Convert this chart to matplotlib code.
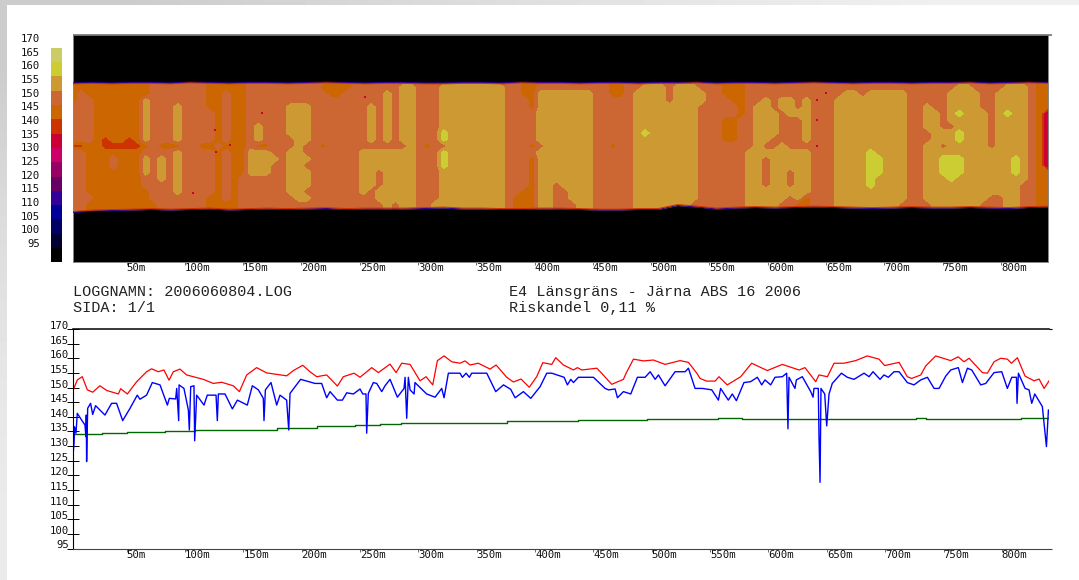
import numpy as np
import matplotlib
matplotlib.use('Agg')
import matplotlib.pyplot as plt
from matplotlib.colors import BoundaryNorm, ListedColormap
from matplotlib.lines import Line2D

W, H = 1079, 580
MONO = 'Liberation Mono'
TICK = 'DejaVu Sans Mono'

# colour scale, black = below 95
scale_colors = ['#000000', '#000033', '#000066', '#000099', '#330099', '#660066', '#990066', '#CC0066',
                '#CC0033', '#CC3300', '#CC6600', '#CC6633', '#CC9933', '#CCCC33', '#CCCC66']
scale_levels = [90, 95, 100, 105, 110, 115, 120, 125, 130, 135, 140, 145, 150, 155, 160, 165]
scale_labels = [95, 100, 105, 110, 115, 120, 125, 130, 135, 140, 145, 150, 155, 160, 165, 170]
bar_edges = [88.0, 93.2, 98.4, 103.7, 108.9, 114.1, 119.3, 124.5, 129.8, 135.0, 140.2, 145.4, 150.6, 155.9, 161.1, 166.3]

x_ticks = [50, 100, 150, 200, 250, 300, 350, 400, 450, 500, 550, 600, 650, 700, 750, 800]
x_labels = ['50m', '100m', '150m', '200m', '250m', '300m', '350m', '400m',
            '450m', '500m', '550m', '600m', '650m', '700m', '750m', '800m']

# road surface classes, one row per lateral position
class_db = {'M': 127.5, 'R': 137.5, 'A': 142.5, 'B': 147.5, 'C': 152.5, 'D': 157.5}
surface_rows = [
    "AAAAAAAAAA BBBBBBBAAA AABBBBBBBB BBAAAABBBB BBBBBBBBBB BBBBBBAAAB BBBBBBBAAB BBBBBBBBBB BAAABBBBBB BBBBBBBBBB BBBBBBBBBB BBBBBBBBBB AA",
    "AAAAAAAAAA BBBBBBBAAA AABBBBBBBB BAAAABBBBB BCCBBBCCCC CCCCBBAABB BBBBBBBAAB BCCCBCCCBB BAAABBBBBB BBBBBBBBBB BBBBBBBBBB CCBBBBCCCB AA",
    "ABAAAAAAAA BBBBBBBAAB AABBBBBBBB BBAABBBBBC BCCBBBCCCC CCCCBBAACC CCCCCBBAAB CCCCBCCCCB BAAABBBBBB BBBBBBCCBC CCCCBBBBBC CCCBBCCCCB AA",
    "ABBAAAAAAC BBBBBBBAAB AABBBBBBBB BBBBBBBBBC BCCBBBCCCC CCCCBBBACC CCCCCBBBBB CCCCBCCCCB BBAABBCBCC BCBBBCCCCC CCCCBBBBBC CCCBBCCCCB AA",
    "BBBAAAAAAC BBBCBBBAAB AABBBBBCCC BBBBBBBCBC BCCBBBCCCC CCCCBBBACC CCCCCBBBBB CCCCCCCCBB BBBABCCBCC BCBBBCCCCC CCCCBBCBBC CCCBBCCCCB AA",
    "BBBAAAAAAC BBBCBBBBAB AABBBBBCCC BBBBBBBCBC BCCBBBCCCC CCCCBBBBCC CCCCCBBBBB CCCCCCCCBB BBBABCCCBC CCBBBCCCCC CCCCBBCCBC DCCCBCDCCB AM",
    "BBBAAAAAAC BBBCBBBBAB AABBBBBCCC BBBBBBBCBC BCCBBBCCCC CCCCBBBBCC CCCCCBBBBB CCCCCCCCBB BAABBCCCBB BCBBBCCCCC CCCCBBCCBC CCCCBCCCCB AM",
    "BBBAAAAAAC BBBCBBBBAB AABCBBBCCC BBBBBBBCBC BCCBBBCCCC CCCCBBBBCC CCCCCBBBBB CCCCCCCCBB BAABBCCCBB BCBBBCCCCC CCCCBBCCBB CCCCBCCCCB AM",
    "BBBAAAAAAC BBBCBBBBAB AABCBBBCCC BBBBBBBCBC BCCBBBDCCC CCCCBBBBCC CCCCCBBBBB CDCCCCCCBB BAABBCCCBB BCBBBCCCCC CCCCBBBCCC DCCCBCCCCB AM",
    "BBBARAARAC BBBCBBBBAB AABCBBBBCC BBBBBBBCBC BCCBBBDCCC CCCCBBBBCC CCCCCBBBBB CCCCCCCCBB BAABBCCBBB BCBBBCCCCC CCCCBBBCCC DCCCBCCCCB AM",
    "RRAARRRRRA BAAABBAABA AABAABBBCB BABBBBBBBB BBCBABBCCC CCCCBBBABC CCCCCBBABB CCCCCCCCBB BBBBBCBBCB BBBBBCCCCC CCCCBBCCBC CCCCBCCCCB AM",
    "BBAAAAAAAB BBBCBBBBAB AACCCBBCCB BBBBBBCCCC CCCBBBDCCC CCCCBBBBCC CCCCCBBBBB CCCCCCCCBB BBBBCCCCCC CCBBBCCCCD CCCCBBCCCC CCCCCCCCCB AM",
    "BBAAABAAAC BCBCBBBBAB AACCCCBCCC BBBBBBCCCC CCCBBBDCCC CCCCBBBACC CCCCCBBBBB CCCCCCCCBB BBBBCCBCCC CCBBBCCCCD DCCCBBCCDD DCCCCCCDCB AM",
    "BBAAABAAAC BCBCBBBBAB AACCCBBCCB BBBBBBCCCC CCCBBBDCCC CCCCBBBACC CCCCCBBBBB CCCCCCCCBB BBBBCCBCCC CCBBBCCCCD DCCCBBCCDD DCCCCCCDCB AM",
    "BBAAAAAAAC BCBCBBBBAB AACCCBBCCC BBBBBBCCBC CCCBBBCCCC CCCCBBBACC CCCCCBBBBB CCCCCCCCBB BBBBCCBCCB CCBBBCCCCD DCCCBBCCDD DCCCCCCDCB AA",
    "BBAAAAAAAB BCBCBBBBAB ABBBBBBCCC BBBBBBCCBC CCCBBBCCCC CCCCBBBACC CCCCCBBBBB CCCCCCCCBB BBBBCCBCCB CCBBBCCCCD CCCCBBCCCD CCCCCCCCCB AA",
    "BBAAAAAAAB BBBCBBBBAB ABBBBBBCCC BBBBBBCCBC CCCBBBCCCC CCCCBBBACC BCCCCBBBBB CCCCCCCCBB BBBBCCBCCB CCBBBCCCCD CCCCBBCCCC CCCCCCCCBB AA",
    "BBAAAAAAAA BBBCBBBBAB ABBBBBBCCB BBBBBBCBCC CCCBBBCCCC CCCCBBAACC BBCCCBBBBB CCCCCCCCBB BBBBCCCCCC CCBBBCCCCC CCCCBBCCCC CCCCCCCCBB AA",
    "BBBAAAAAAA BBBBBBBAAB ABBBBBBBCC BBBBBBBBCC CCCBBBCCCC CCCCBAAACC BBCCCBBBBB CCCCCCCCBB BBBBCCCCCB CABBBCCCCC CCCCBBCCCC CCCCBBCCBB AA",
    "BBAAAAAAAA ABBBBBBAAA ABBBBBBBBB BBBBBBBBBC BCCBBCCCCC CCCCBAAACC BBBCCBBBBB CCCCCCCBBB BBBBCCCCBB AABBBCCCCC CCCBBBBCCC CCCBBBCCBB AA",
    "BBAAAAAAAA ABBBBBBAAA ABBBBBBBBB BBBBBBBBBC BCCBBCCCCC CCCCBAAACC BBBCCBBBBB CCCCCCCBBB BBBBCCCCBB AABBBCCCCC CCCBBBBCCC CCCBBBCCBB AA",
]
top_edge = [48, 47.5, 48, 47.5, 47.5, 48, 47, 47.5, 48, 47.5,
            47.5, 48, 47.5, 47, 47.5, 48, 47.5, 47.5, 48, 48,
            47.5, 47.5, 48, 47, 47.5, 47.5, 48, 47.5, 47.5, 48,
            47.5, 47.5, 47, 48, 47.5, 47.5, 48, 47.5, 47, 47.5,
            48, 47.5, 47.5, 48, 47.5, 47.5, 47, 48, 47.5, 47, 47.5]
bottom_edge = [177.5, 176, 175.5, 175, 174.5, 175, 174.5, 174, 175, 174.5,
               174, 174.5, 174, 173.5, 174.5, 174, 174, 174, 173.5, 173,
               174, 174, 174.5, 174.5, 174, 174, 174.5, 175, 175, 174.5,
               174.5, 170.5, 172, 174, 173, 172.5, 173, 172.5, 172, 172.5,
               173, 173.5, 173, 172.5, 173, 173, 172.5, 173, 173.5, 172.5, 172]
speck_m = [166, 125.7, 106.9, 138.6, 126.6, 254.2, 642.4, 642.4, 642.4, 650]
speck_lat = [78, 95, 158, 110, 117, 62, 65, 85, 111, 58]

red_m = [3.7, 7.7, 12, 16.3, 20.9, 27.1, 32.9, 42.9, 44.9, 50.6, 58.6, 67.1, 71.4, 77.1, 82, 86.3, 90, 95.7,
         101.4, 115.7, 124.3, 131.4, 141.4, 146.6, 152.9, 161.4, 170, 187.1, 192.9, 200.9, 207.1, 212.9,
         221.4, 230.6, 235.7, 244.9, 250, 260, 265.7, 275.7, 280.9, 285.7, 292.9, 301.4, 306.6, 312.3,
         316.3, 322, 328.6, 335.7, 340, 344.3, 351.4, 361.4, 366.6, 375.7, 381.4, 388, 395, 401.4, 406.6,
         414.3, 417.7, 424.3, 432.9, 436.3, 440, 452.9, 457, 465.7, 475.7, 478, 484.3, 492.9, 501.4, 511.4,
         524.3, 531.4, 538.6, 541.4, 547, 554.3, 557.6, 564.7, 576.2, 585.6, 599, 611.9, 626.2, 631.3,
         640.5, 643.3, 650.5, 656.2, 664.7, 674.7, 684.7, 694.7, 699.6, 711.9, 719, 722.7, 730.5, 734.8,
         743.3, 756.2, 762.5, 767.6, 771.9, 783.3, 787.6, 793.3, 799, 804.7, 808.2, 813.3, 819.9, 827.6,
         831.9, 836.2, 840.5]
red_db = [148.6, 152.6, 153.7, 149.2, 148.4, 150.6, 149, 147.8, 149.6, 147.8, 152, 155.4, 156.4, 155.4, 156,
          152.5, 155.4, 156.3, 154.3, 152.8, 151.4, 151.8, 150.6, 148.6, 154.3, 156.8, 155, 154, 155.8, 157.6,
          155.4, 153.7, 154.3, 150.5, 153.7, 154.9, 153.5, 156.8, 155.1, 158, 155.1, 158.3, 157.9, 152.3,
          153.7, 150.9, 159.2, 160.8, 158.8, 158.3, 159.1, 157.7, 158.3, 156.3, 157.7, 153.5, 151.9, 152.9,
          150.1, 153.7, 158.5, 157.9, 160.2, 157.7, 156, 156.8, 156, 156.6, 154.9, 151.1, 152.8, 154.9, 159.7,
          159.1, 159.4, 157.9, 159.2, 158.6, 154.9, 153.1, 152.2, 152.2, 153.7, 150.9, 153.7, 158.3, 155.8,
          157.9, 156, 156.8, 152, 154.3, 153.7, 158.3, 158.3, 159.2, 160.8, 159.7, 157.5, 158.6, 153.7, 153.1,
          154.3, 157.4, 160.8, 159.2, 160.5, 158.8, 160, 155.1, 154.9, 158.8, 160, 159.7, 158.3, 160.2, 153.9,
          152.3, 152.9, 149.7, 152.3]

blue_m = [3.7, 4.9, 5.4, 6.6, 7.7, 11.4, 14.3, 15.1, 15.4, 15.7, 16.6, 19.1, 20.9, 23.4, 31.4, 37.1, 41.4, 46.6,
          52.9, 59.1, 61.4, 67.1, 72, 78.6, 84.9, 86.6, 92, 92.9, 94.6, 94.9, 99.1, 102.9, 103.7, 104.9, 107.7,
          108.3, 110, 116.3, 119.1, 126.6, 127.7, 128.6, 134.3, 140.6, 144.9, 153.4, 157.7, 162.9, 167.1, 167.7,
          168.9, 173.7, 178.6, 181.4, 187.1, 188.9, 190, 199.1, 211.4, 217.1, 221.4, 224.3, 230.6, 234.9, 238.6,
          244.3, 250, 252.3, 255.1, 255.7, 257.1, 261.4, 264.3, 268.6, 271.4, 275.7, 282, 287.7, 288.6, 290,
          291.4, 292.9, 296.3, 297.1, 307.1, 314.3, 320, 322, 325.7, 335.7, 337.7, 340.9, 343.7, 345.7, 358.6,
          366.3, 372.9, 379.1, 382.9, 390, 396.3, 404.3, 410, 414.3, 424.9, 427.7, 430.6, 432.9, 437.1, 450, 460,
          462.9, 468.6, 470.6, 475.7, 482, 487.7, 494.3, 498.6, 502.9, 505.7, 511.4, 520, 528.6, 531.4, 537.1,
          543.4, 551.4, 557.1, 559, 565.6, 569, 572.5, 579, 584.7, 590.5, 594.2, 597, 601.9, 605.6, 611.9, 615.6,
          616.2, 616.7, 617.6, 622.7, 623.9, 629, 636.2, 638.2, 639, 642.7, 643.3, 644.2, 645, 648.2, 649.9,
          651.9, 654.7, 662.5, 667.6, 673.3, 681.9, 686.2, 689.6, 695.6, 699, 702.7, 707.6, 711.9, 719, 724.7,
          730.5, 736.2, 741.9, 746.2, 751.9, 756.2, 762.7, 766.2, 770.5, 774.2, 781.9, 786.2, 793.3, 799.9,
          804.7, 808.5, 812.5, 813, 814.2, 819.9, 823.3, 825.6, 828.2, 834.7, 837, 838.2, 839.9]
blue_db = [125.2, 130.9, 136.6, 134.4, 141.2, 138.9, 137.2, 133.2, 140.6, 124.7, 142.9, 144.6, 140.8, 143.8, 140.6,
           144.6, 144.6, 138.7, 142.9, 147.4, 146, 147.4, 151.7, 150.9, 144, 146.3, 146.1, 149.7, 138.7, 150.9,
           149.7, 142.3, 135.5, 150.3, 150.6, 131.8, 147.4, 144, 147.4, 147.4, 138.7, 147.8, 147.8, 142.7, 145.7,
           144, 150.6, 149.2, 146.3, 138.7, 149.2, 151.7, 144, 147.4, 145.7, 135.5, 148, 152.8, 151.4, 151.4,
           146.5, 148.6, 145.7, 145.7, 148.2, 147.8, 149.5, 147.8, 147.8, 134.4, 148, 151.7, 151.4, 148.6, 150.6,
           152.8, 146.7, 149.7, 153.5, 139.5, 153.5, 149.2, 147.8, 151.7, 147.8, 146.7, 149.7, 146.5, 154.9, 154.9,
           153.5, 154.9, 153.5, 154.9, 154.9, 148.6, 150.9, 149.4, 146.5, 148.6, 146.3, 150.3, 154.9, 154.9, 153.5,
           150.9, 152.8, 151.7, 153.5, 153.5, 149.7, 149.2, 149.5, 146.5, 148.6, 147.8, 153.5, 153.5, 155.4, 152.8,
           154.3, 150.6, 155.4, 155.4, 156.6, 149.7, 149.7, 149.2, 145.7, 149.7, 145.7, 147.8, 145.5, 151.7, 152,
           153.5, 150.9, 152.6, 150.9, 153.5, 153.7, 154.9, 145.2, 135.9, 153.5, 149.7, 152.6, 153.7, 148.6, 146.7,
           149.7, 149.7, 133.2, 117.6, 149.7, 147.8, 136.9, 147.8, 151.4, 154.9, 153.5, 152.8, 154.9, 153.7, 155.4,
           152.8, 154.3, 153.5, 155.4, 155.4, 151.7, 150.9, 152.6, 153.5, 149.7, 149.7, 153.9, 156, 156.8, 151.7,
           156.6, 156, 150.9, 151.4, 155.1, 155.4, 149.7, 153.5, 153.5, 144.6, 154.9, 149.7, 149.2, 144.6, 147.8,
           143.5, 134.4, 129.8, 142.3]

green_m = [3.7, 28.6, 50, 82.9, 108.6, 178.6, 212.9, 245.7, 267, 284.9, 376.3, 437.1, 496.3, 557, 577.6, 726, 734.7, 816, 840]
green_db = [134.1, 134.5, 134.8, 135.3, 135.6, 136.1, 136.9, 137.2, 137.7, 138, 138.5, 138.8, 139.2, 139.5, 139.1,
            139.7, 139.1, 139.6, 139.6]


def px_axes(fig, left, top, right, bottom):
    return fig.add_axes([left / W, 1 - bottom / H, (right - left) / W, (bottom - top) / H])


def px_hline(fig, x0, x1, y, color, lw):
    fig.add_artist(Line2D([x0 / W, x1 / W], [1 - y / H, 1 - y / H], color=color, lw=lw, solid_capstyle='butt'))


fig = plt.figure(figsize=(W / 100, H / 100), dpi=100, facecolor='white')

# grey window frame at the top and on the left
frame_top = px_axes(fig, 0, 0, W, 5)
frame_top.imshow([[0.80, 0.85, 0.90, 0.94]], cmap='gray', vmin=0, vmax=1, aspect='auto', interpolation='bilinear')
frame_top.axis('off')
frame_left = px_axes(fig, 0, 0, 7, H)
frame_left.imshow([[0.80], [0.86], [0.90], [0.92]], cmap='gray', vmin=0, vmax=1, aspect='auto', interpolation='bilinear')
frame_left.axis('off')

# colour scale
cb = px_axes(fig, 51, 30, 62, 262)
cb.pcolormesh([0, 1], bar_edges, np.array(scale_levels[:-1]).reshape(-1, 1) + 2.5,
              cmap=ListedColormap(scale_colors), norm=BoundaryNorm(scale_levels, 15))
cb.set_xlim(0, 1)
cb.set_ylim(88.04, 172.9)
cb.set_facecolor('none')
for s in cb.spines.values():
    s.set_visible(False)
cb.set_xticks([])
cb.set_yticks(scale_labels)
cb.tick_params(axis='y', length=0, pad=8, labelsize=7.7, labelcolor='#111111')
for t in cb.get_yticklabels():
    t.set_family(TICK)

# surface map
xlim = (4.03, 840.4)
heat = px_axes(fig, 73, 35, 1048, 262)
heat.set_facecolor('black')
grid = np.array([[class_db[c] for c in row.replace(' ', '')] for row in surface_rows])
grid_x = np.linspace(xlim[0], xlim[1], grid.shape[1])
grid_y = np.linspace(46, 176, grid.shape[0])
heat.contourf(grid_x, grid_y, grid, levels=scale_levels, colors=scale_colors, zorder=1, antialiased=False)
edge_x = np.linspace(xlim[0], xlim[1], len(top_edge))
heat.fill_between(edge_x, 0, top_edge, color='black', lw=0, zorder=2)
heat.fill_between(edge_x, bottom_edge, 227, color='black', lw=0, zorder=2)
heat.plot(edge_x, top_edge, color='#330099', lw=0.8, zorder=3)
heat.plot(edge_x, bottom_edge, color='#330099', lw=0.8, zorder=3)
heat.plot(edge_x, [v + 0.9 for v in top_edge], color='#CC3300', lw=0.7, zorder=3)
heat.plot(edge_x, [v - 0.9 for v in bottom_edge], color='#CC3300', lw=0.7, zorder=3)
heat.scatter(speck_m, speck_lat, s=3, marker='s', color='#CC0033', lw=0, zorder=3)
heat.set_xlim(*xlim)
heat.set_ylim(227, 0)
heat.set_yticks([])
heat.set_xticks(x_ticks)
heat.set_xticklabels(x_labels, ha='left', family=TICK, fontsize=7.7, color='#111111')
heat.tick_params(axis='x', length=2, width=0.6, pad=-1, color='#555555')
for s in heat.spines.values():
    s.set_color('#888888')
    s.set_linewidth(0.7)
px_hline(fig, 73, 1052, 34.5, '#666666', 1.1)

# header texts
fig.text(73 / W, 1 - 292 / H, 'LOGGNAMN: 2006060804.LOG', family=MONO, fontsize=10.9, va='center', color='#222222')
fig.text(73 / W, 1 - 308 / H, 'SIDA: 1/1', family=MONO, fontsize=10.9, va='center', color='#222222')
fig.text(509 / W, 1 - 292 / H, 'E4 Länsgräns - Järna ABS 16 2006', family=MONO, fontsize=10.9, va='center', color='#222222')
fig.text(509 / W, 1 - 308 / H, 'Riskandel 0,11 %', family=MONO, fontsize=10.9, va='center', color='#222222')

# profile lines
ax = px_axes(fig, 73, 329, 1049, 548.5)
ax.plot(green_m, green_db, color='#006600', lw=1, drawstyle='steps-post')
ax.plot(blue_m, blue_db, color='#0000FF', lw=1)
ax.plot(red_m, red_db, color='#FF0000', lw=0.9)
ax.set_xlim(*xlim)
ax.set_ylim(95, 170)
ax.set_yticks(scale_labels)
ax.set_xticks(x_ticks)
ax.set_xticklabels(x_labels, ha='left', family=TICK, fontsize=7.7, color='#111111')
ax.tick_params(axis='x', length=2, width=0.6, pad=-1, color='#555555')
ax.tick_params(axis='y', direction='inout', length=8, width=0.7, pad=-1, labelsize=7.7, labelcolor='#111111')
for t in ax.get_yticklabels():
    t.set_family(TICK)
    t.set_va('baseline')
ax.spines['right'].set_visible(False)
ax.spines['top'].set_linewidth(1.1)
ax.spines['left'].set_linewidth(0.8)
ax.spines['bottom'].set_linewidth(0.8)
ax.spines['bottom'].set_color('#444444')
px_hline(fig, 1049, 1052, 329, 'black', 0.8)
px_hline(fig, 1049, 1052, 548.5, '#444444', 0.8)

fig.savefig('out.png', dpi=100, facecolor='white')
